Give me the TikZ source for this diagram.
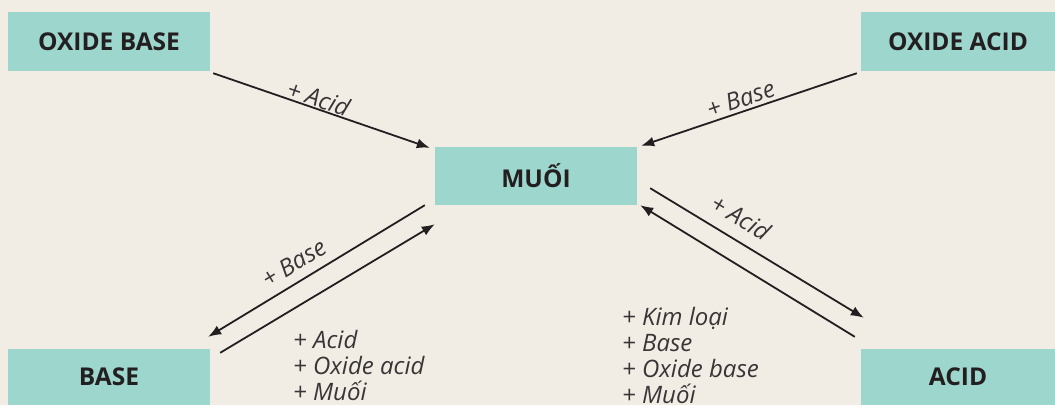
\documentclass[tikz,border=0pt]{standalone}
\usepackage{fontspec}
\setmainfont{Open Sans}
\usetikzlibrary{arrows.meta,calc}
\definecolor{bg}{RGB}{241,237,228}
\definecolor{boxc}{RGB}{157,214,204}
\definecolor{ink}{RGB}{35,31,32}
\begin{document}
\begin{tikzpicture}[x=1pt,y=-1pt,
  box/.style={fill=boxc, minimum width=202pt, minimum height=59pt, inner sep=0pt,
    font=\bfseries\fontsize{24.5}{26}\selectfont, text=ink},
  arr/.style={-{Latex[length=13pt,width=10pt]}, line width=1.8pt, draw=ink},
  lbl/.style={font=\itshape\fontsize{24}{26}\selectfont, text=ink!90}]
\useasboundingbox (0,0) rectangle (1055,405);
\fill[bg] (0,0) rectangle (1055,405);
\node[box] (ob) at (109,41.5) {OXIDE BASE};
\node[box, minimum width=194pt] (oa) at (958,41.5) {OXIDE ACID};
\node[box, minimum height=58pt] (m) at (536,176) {MUỐI};
\node[box, minimum height=56pt] (b) at (109,377) {BASE};
\node[box, minimum width=194pt, minimum height=56pt] (a) at (958,377) {ACID};
\draw[arr] ($(ob.south east)+(3,2)$) -- node[lbl, sloped, above, pos=0.47, inner sep=0.5pt] (l1) {+ Acid} ($(m.north west)+(-5,1)$);
\draw[arr] ($(oa.south west)+(-4,2)$) -- node[lbl, sloped, above, pos=0.52, inner sep=3pt] (l2) {+ Base} ($(m.north east)+(4,-1)$);
\draw[arr] ($(m.south west)+(-10,0)$) -- node[lbl, sloped, above, pos=0.56, inner sep=9pt] (l3) {+ Base} ($(b.north east)+(-2,-12)$);
\draw[arr] ($(b.north east)+(10,4)$) -- ($(m.south west)+(0,19)$);
\draw[arr] ($(m.south east)+(13,-17)$) -- node[lbl, sloped, above, pos=0.37, inner sep=12pt] (l4) {+ Acid} ($(a.north west)+(3,-31)$);
\draw[arr] ($(a.north west)+(-6,-12)$) -- ($(m.south east)+(3,0)$);
\node[lbl, align=left, anchor=north west, inner sep=0pt] (t1) at (293,330) {+ Acid\\+ Oxide acid\\+ Muối};
\node[lbl, align=left, anchor=north west, inner sep=0pt] (t2) at (622,307) {+ Kim loại\\+ Base\\+ Oxide base\\+ Muối};
\end{tikzpicture}
\end{document}
